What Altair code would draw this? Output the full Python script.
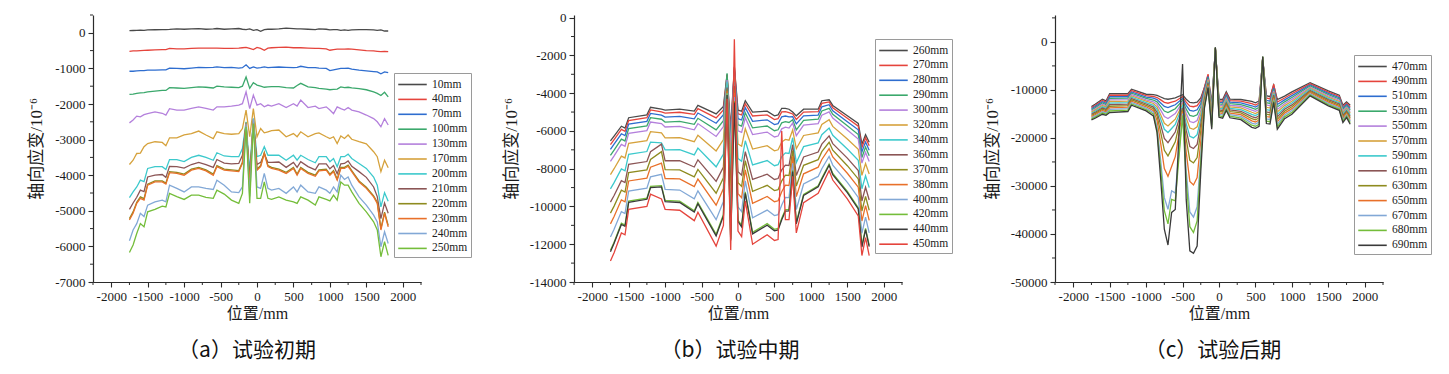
import altair as alt
import pandas as pd

SERIF = "Liberation Serif, Noto Sans CJK SC"
CJK = "Noto Sans CJK SC"

x_ticks = [-2000, -1500, -1000, -500, 0, 500, 1000, 1500, 2000]
x_minor = [-2250, -1750, -1250, -750, -250, 250, 750, 1250, 1750, 2250]

# ---------------- panel (a) ----------------
xa = [-1750, -1700, -1650, -1600, -1550, -1500, -1400, -1300, -1250, -1200, -1100, -1000, -900, -800, -700,
      -600, -550, -450, -350, -250, -200, -150, -100, -50, 0, 50, 100, 150, 200, 300, 400, 500, 550, 600,
      700, 800, 850, 950, 1000, 1050, 1100, 1150, 1200, 1250, 1300, 1400, 1500, 1600, 1650, 1700, 1750, 1800]
a_labels = ["10mm", "40mm", "70mm", "100mm", "130mm", "170mm", "200mm", "210mm", "220mm", "230mm", "240mm", "250mm"]
a10 = [60, 65, 70, 75, 70, 80, 85, 90, 90, 95, 110, 100, 110, 120, 100, 110, 120, 100, 110, 120, 100, 90, 110, 70, 90,
       40, 90, 100, 100, 110, 130, 120, 110, 110, 100, 90, 110, 100, 80, 90, 90, 70, 80, 70, 80, 90, 90, 80, 70, 80, 50, 50]
a40 = [-520, -510, -505, -500, -495, -490, -480, -470, -470, -440, -450, -450, -440, -430, -430, -430, -430, -440, -440,
       -430, -420, -410, -440, -470, -410, -440, -490, -430, -420, -410, -400, -420, -420, -420, -430, -440, -440, -450,
       -490, -470, -460, -460, -460, -450, -460, -480, -500, -510, -520, -530, -520, -530]
a70 = [-1080, -1080, -1070, -1060, -1060, -1050, -1050, -1040, -1040, -990, -1000, -1010, -990, -970, -980, -970, -960,
       -980, -970, -990, -980, -900, -1000, -960, -990, -980, -960, -980, -970, -960, -970, -980, -970, -940, -980, -980,
       -990, -1000, -1060, -1040, -1020, -1000, -1000, -990, -1020, -1050, -1070, -1090, -1100, -1150, -1100, -1120]
a100 = [-1730, -1720, -1700, -1690, -1680, -1660, -1640, -1620, -1620, -1540, -1550, -1560, -1540, -1520, -1530, -1550,
        -1500, -1520, -1530, -1540, -1500, -1240, -1560, -1400, -1470, -1500, -1530, -1520, -1510, -1510, -1540, -1550,
        -1480, -1420, -1520, -1540, -1560, -1580, -1600, -1590, -1580, -1520, -1540, -1530, -1550, -1570, -1600, -1660,
        -1700, -1760, -1670, -1800]
a130 = [-2530, -2450, -2340, -2360, -2300, -2270, -2220, -2260, -2310, -2130, -2170, -2170, -2120, -2080, -2120, -2170,
        -2080, -2080, -2060, -2030, -1990, -1660, -2130, -1750, -2030, -1990, -2080, -2030, -2060, -1990, -2100, -1990,
        -2060, -1890, -2100, -2060, -2130, -2080, -2170, -2270, -2080, -2130, -2170, -2100, -2170, -2220, -2310, -2410,
        -2500, -2640, -2410, -2590]
a170 = [-3700, -3580, -3390, -3380, -3200, -3110, -3060, -3080, -3170, -2950, -2950, -2870, -2830, -2760, -2870, -2970,
        -2780, -2830, -2850, -2830, -2690, -2170, -2920, -2130, -2920, -2690, -2810, -2780, -2750, -2730, -2920, -2830,
        -2920, -2780, -2920, -2830, -2810, -2920, -2970, -2920, -3110, -2900, -2970, -2870, -2990, -3060, -3120, -3340,
        -3480, -3900, -3580, -3790]
a200 = [-4630, -4470, -4330, -4140, -4180, -3810, -3760, -3760, -3840, -3560, -3560, -3620, -3500, -3440, -3500, -3580,
        -3370, -3460, -3480, -3480, -3250, -2500, -3900, -2410, -3480, -3440, -3200, -3440, -3440, -3440, -3580, -3440,
        -3580, -3440, -3560, -3650, -3480, -3480, -3620, -3530, -3760, -3480, -3480, -3410, -3530, -3670, -3810, -4050,
        -4280, -4890, -4490, -4730]
a210 = [-4960, -4780, -4620, -4420, -4460, -4050, -4000, -3980, -4060, -3750, -3760, -3800, -3700, -3640, -3700, -3780,
        -3560, -3660, -3680, -3670, -3440, -2600, -4100, -2500, -3700, -3640, -3400, -3640, -3640, -3630, -3780, -3640,
        -3780, -3620, -3760, -3850, -3680, -3680, -3820, -3730, -3960, -3680, -3670, -3600, -3750, -3900, -4060, -4330,
        -4600, -5220, -4780, -5070]
a220 = [-5220, -5030, -4760, -4610, -4660, -4250, -4160, -4160, -4220, -3900, -3920, -3970, -3830, -3780, -3850, -3970,
        -3730, -3830, -3850, -3870, -3640, -2520, -4250, -2420, -3830, -3730, -3360, -3730, -3780, -3830, -3920, -3780,
        -3970, -3780, -3920, -4000, -3850, -3830, -3970, -3870, -4110, -3780, -3780, -3720, -3870, -4160, -4340, -4580,
        -4760, -5500, -5040, -5410]
a230 = [-5260, -5070, -4790, -4650, -4700, -4280, -4190, -4190, -4250, -3930, -3950, -4000, -3860, -3810, -3880, -4000,
        -3760, -3860, -3880, -3900, -3670, -2550, -4300, -2450, -3860, -3760, -3390, -3760, -3810, -3860, -3950, -3810,
        -4000, -3810, -3950, -4030, -3880, -3860, -4000, -3900, -4140, -3810, -3810, -3750, -3900, -4190, -4370, -4610,
        -4790, -5540, -5070, -5450]
a240 = [-5840, -5540, -5360, -5070, -5160, -4840, -4750, -4700, -4750, -4280, -4370, -4470, -4330, -4330, -4370, -4400,
        -4140, -4280, -4470, -4490, -4330, -2550, -4600, -2410, -4330, -4370, -3950, -4370, -4420, -4370, -4510, -4330,
        -4470, -4280, -4470, -4510, -4330, -4420, -4510, -4330, -4470, -4000, -4120, -4050, -4280, -4610, -4840, -5120,
        -5310, -6010, -5590, -5920]
a250 = [-6170, -5960, -5640, -5360, -5450, -5030, -4960, -4870, -4890, -4510, -4600, -4680, -4560, -4560, -4620, -4650,
        -4420, -4530, -4700, -4790, -4510, -2640, -4790, -2550, -4650, -4650, -4190, -4650, -4680, -4610, -4700, -4750,
        -4790, -4610, -4700, -4840, -4610, -4680, -4720, -4560, -4700, -4190, -4280, -4280, -4470, -4790, -5030, -5310,
        -5540, -6290, -5870, -6250]
a_series = [a10, a40, a70, a100, a130, a170, a200, a210, a220, a230, a240, a250]

# ---------------- panel (b) ----------------
xb = [-1750, -1700, -1600, -1550, -1500, -1250, -1200, -1050, -1000, -800, -600, -550, -300, -200, -150, -100, -50,
      0, 50, 100, 200, 400, 500, 550, 600, 650, 700, 750, 800, 900, 1100, 1150, 1250, 1300, 1500, 1650, 1700, 1750, 1800]
b_labels = ["260mm", "270mm", "280mm", "290mm", "300mm", "320mm", "340mm", "360mm", "370mm", "380mm", "400mm",
            "420mm", "440mm", "450mm"]
b260 = [-6530, -6270, -5750, -5850, -5300, -5150, -4750, -4850, -4900, -4850, -4950, -4650, -5100, -4700, -3000,
        -5900, -2600, -4900, -4950, -4400, -5000, -4950, -5200, -5150, -4800, -4800, -4850, -5000, -5200, -4850,
        -4850, -4400, -4350, -4650, -5200, -5600, -6700, -6200, -6600]
b270 = [-6720, -6460, -5920, -6020, -5450, -5300, -4890, -4990, -5060, -5010, -5120, -4820, -5310, -4890, -3040,
        -6090, -2660, -5090, -5150, -4560, -5210, -5150, -5400, -5350, -4990, -4980, -5030, -5100, -5390, -5000,
        -4980, -4540, -4460, -4770, -5330, -5750, -6880, -6360, -6780]
b280 = [-6980, -6700, -6150, -6250, -5640, -5490, -5070, -5160, -5270, -5230, -5360, -5050, -5590, -5140, -3200,
        -6350, -2740, -5350, -5420, -4770, -5490, -5410, -5660, -5610, -5250, -5210, -5260, -5240, -5630, -5200,
        -5160, -4720, -4610, -4930, -5510, -5940, -7110, -6580, -7020]
b290 = [-7290, -7010, -6430, -6530, -5880, -5730, -5300, -5380, -5530, -5490, -5650, -5330, -5940, -5460, -2950,
        -6670, -2840, -5670, -5750, -5040, -5840, -5740, -5990, -5940, -5570, -5510, -5550, -5410, -5940, -5440,
        -5380, -4940, -4800, -5120, -5730, -6190, -7410, -6850, -7320]
b300 = [-7610, -7320, -6710, -6810, -6130, -5980, -5530, -5610, -5790, -5760, -5940, -5610, -6290, -5770, -3300,
        -6990, -2940, -5990, -6080, -5300, -6190, -6060, -6320, -6270, -5890, -5800, -5850, -5580, -6250, -5690,
        -5610, -5170, -4990, -5320, -5950, -6430, -7700, -7130, -7620]
b320 = [-8310, -8000, -7330, -7430, -6660, -6510, -6040, -6100, -6370, -6350, -6570, -6230, -7060, -6460, -3500,
        -7690, -3160, -6690, -6810, -5880, -6960, -6780, -7050, -7000, -6590, -6450, -6490, -5950, -6940, -6240,
        -6100, -5660, -5400, -5760, -6430, -6970, -8350, -7730, -8280]
b340 = [-9070, -8740, -8010, -8110, -7240, -7090, -6590, -6630, -7000, -6990, -7270, -6910, -7900, -7220, -3400,
        -8460, -3400, -7460, -7610, -6520, -7800, -7570, -7840, -7790, -7360, -7160, -7190, -6360, -7680, -6830,
        -6630, -6200, -5850, -6230, -6960, -7560, -9060, -8380, -9000]
b360 = [-9770, -9420, -8630, -8730, -7770, -7620, -7100, -6700, -7580, -7580, -7910, -7530, -8670, -7910, -3700,
        -9160, -3620, -8160, -8340, -7100, -8570, -8290, -8570, -8520, -8060, -7810, -7830, -6730, -8360, -7380,
        -7120, -6700, -6260, -6670, -7440, -8100, -9710, -8980, -9660]
b370 = [-10350, -9980, -9140, -9240, -8210, -8060, -7510, -7100, -8050, -8060, -8430, -8040, -9300, -8480, -3800,
        -9740, -3800, -8740, -8940, -7580, -9200, -8880, -9160, -9110, -8640, -8340, -8360, -7040, -8920, -7820,
        -7520, -7100, -6600, -7020, -7840, -8540, -10240, -9470, -10200]
b380 = [-10920, -10530, -9650, -9750, -8650, -8500, -7920, -7700, -8520, -8540, -8950, -8550, -9930, -9050, -3900,
        -10320, -3980, -9320, -9540, -8060, -9830, -9470, -9750, -9700, -9220, -8870, -8890, -7350, -9480, -8270,
        -7920, -7510, -6940, -7380, -8240, -8980, -10770, -9960, -10740]
b400 = [-11620, -11210, -10270, -10370, -9180, -9030, -8430, -8300, -9100, -9130, -9590, -9170, -10700, -9740, -4000,
        -11020, -4200, -10020, -10270, -8640, -10600, -10190, -10480, -10430, -9920, -9520, -9530, -7720, -10160,
        -8810, -8410, -8000, -7350, -7810, -8720, -9520, -11420, -10560, -11400]
b420 = [-12320, -11890, -10890, -10990, -9710, -9560, -8940, -8900, -9680, -9720, -10230, -9790, -11470, -10430,
        -4000, -11720, -4420, -10720, -11000, -9220, -11370, -10910, -11210, -11160, -10620, -10170, -10170, -8090,
        -10840, -9360, -8900, -8500, -7760, -8250, -9200, -10060, -12070, -11160, -12060]
b440 = [-12400, -11950, -10950, -11050, -9780, -9620, -9000, -8960, -9740, -9790, -10300, -9850, -11560, -10500,
        -4100, -11800, -4500, -10800, -11080, -9300, -11450, -10990, -11290, -11240, -10700, -10250, -10240, -8150,
        -10920, -9420, -8960, -8560, -7820, -8310, -9270, -10130, -12150, -11230, -12130]
b450 = [-12890, -12450, -11400, -11500, -10150, -10000, -9350, -9600, -10150, -10200, -10750, -10300, -12100, -11000,
        -4300, -12300, -1150, -11300, -11600, -9700, -12000, -11500, -11800, -11750, -6000, -10700, -10700, -8400,
        -11400, -9800, -9300, -8900, -8100, -8600, -9600, -10500, -12600, -11650, -12600]
b_series = [b260, b270, b280, b290, b300, b320, b340, b360, b370, b380, b400, b420, b440, b450]

# ---------------- panel (c) ----------------
xc = [-1750, -1700, -1600, -1550, -1500, -1250, -1200, -1000, -900, -850, -800, -750, -700, -650, -600, -500, -450,
      -400, -350, -300, -250, -200, -150, -100, -50, 0, 50, 100, 150, 300, 450, 500, 550, 600, 650, 700, 750, 800,
      900, 1000, 1250, 1500, 1650, 1700, 1750, 1800]
c_labels = ["470mm", "490mm", "510mm", "530mm", "550mm", "570mm", "590mm", "610mm", "630mm", "650mm", "670mm",
            "680mm", "690mm"]
c470 = [-13470, -13000, -11940, -12300, -10760, -10800, -9860, -10900, -11000, -11140, -11470, -11830, -11940, -11800,
        -11660, -11000, -11940, -12620, -12700, -12530, -11680, -9500, -7000, -13000, -1600, -12000, -12000, -10400,
        -11900, -12000, -12400, -12700, -12300, -3600, -11200, -11400, -9000, -12000, -11300, -10400, -8500, -10200,
        -11100, -13190, -12500, -13190]
c490 = [-13700, -13240, -12200, -12550, -11090, -11110, -10140, -11190, -11370, -11580, -12070, -12600, -12770, -12560,
        -12350, -11390, -12550, -13400, -13500, -13290, -12230, -9500, -6700, -13400, -1560, -12310, -12330, -10730,
        -12230, -12350, -12850, -13140, -12740, -3550, -11680, -11880, -8800, -12520, -11690, -10790, -8730, -10460,
        -11360, -13490, -12770, -13520]
c510 = [-13930, -13480, -12460, -12800, -11420, -11420, -10420, -11480, -11730, -12020, -12710, -13450, -13680, -13390,
        -13100, -11780, -13220, -14270, -14400, -14140, -12830, -10000, -7200, -13800, -1520, -12620, -12650, -11050,
        -12550, -12700, -13300, -13580, -13180, -3500, -12170, -12350, -9600, -13030, -12080, -11180, -8960, -10720,
        -11620, -13790, -13040, -13850]
c530 = [-14170, -13730, -12720, -13050, -11750, -11720, -10690, -11770, -12100, -12490, -13410, -14400, -14710, -14320,
        -13930, -12180, -14010, -15330, -15500, -15170, -13510, -10400, -7500, -14200, -1480, -12920, -12980, -11380,
        -12880, -13050, -13750, -14030, -13630, -3450, -12650, -12830, -9900, -13550, -12480, -11570, -9190, -10980,
        -11890, -14090, -13320, -14180]
c550 = [-14400, -13970, -12980, -13300, -12080, -12030, -10970, -12060, -12470, -13000, -14220, -15550, -15970, -15450,
        -14920, -12570, -14900, -16590, -16800, -16380, -14260, -10800, -7800, -14600, -1440, -13230, -13300, -11700,
        -13200, -13400, -14200, -14470, -14070, -3400, -13130, -13300, -10200, -14060, -12870, -11960, -9420, -11240,
        -12150, -14390, -13590, -14510]
c570 = [-14630, -14210, -13250, -13550, -12410, -12340, -11250, -12350, -12830, -13530, -15170, -16940, -17500, -16800,
        -16100, -12960, -15840, -17940, -18200, -17680, -15060, -11200, -8000, -15000, -1400, -13540, -13630, -12030,
        -13530, -13750, -14650, -14910, -14510, -3350, -13620, -13780, -10500, -14580, -13260, -12350, -9650, -11510,
        -12410, -14700, -13860, -14840]
c590 = [-14860, -14450, -13510, -13800, -12740, -12650, -11530, -12640, -13200, -14050, -16040, -18200, -18880, -18030,
        -17180, -13350, -17010, -19670, -20000, -19340, -16010, -11600, -8300, -15500, -1360, -13850, -13950, -12350,
        -13850, -14100, -15100, -15350, -14950, -3300, -14100, -14250, -10800, -15100, -13650, -12730, -9870, -11770,
        -12670, -15000, -14130, -15170]
c610 = [-15090, -14690, -13770, -14050, -13070, -12960, -11810, -12930, -13570, -14680, -17290, -20110, -21000, -19890,
        -18770, -13740, -18390, -21780, -22200, -21350, -17120, -12000, -8500, -16000, -1320, -14160, -14280, -12680,
        -14180, -14450, -15550, -15790, -15390, -3250, -14580, -14730, -11100, -15610, -14040, -13120, -10100, -12030,
        -12930, -15300, -14400, -15500]
c630 = [-15330, -14940, -14030, -14300, -13400, -13260, -12080, -13220, -13930, -15400, -18840, -22570, -23750, -22280,
        -20800, -14130, -20220, -24650, -25200, -24090, -18560, -12400, -8800, -16400, -1280, -14460, -14600, -13000,
        -14500, -14800, -16000, -16240, -15840, -3200, -15060, -15200, -11400, -16130, -14440, -13510, -10330, -12290,
        -13200, -15600, -14680, -15830]
c650 = [-15560, -15180, -14290, -14550, -13730, -13570, -12360, -13510, -14300, -16360, -21150, -26360, -28000, -25950,
        -23890, -14530, -22930, -29040, -29800, -28270, -20640, -12800, -9000, -16800, -1240, -14770, -14930, -13330,
        -14830, -15150, -16450, -16680, -16280, -3150, -15550, -15680, -11700, -16640, -14830, -13900, -10560, -12550,
        -13460, -15900, -14950, -16160]
c670 = [-15790, -15420, -14550, -14800, -14060, -13880, -12640, -13800, -14670, -17700, -24770, -32440, -34860, -31000,
        -31500, -14920, -26790, -35420, -36500, -34340, -23550, -13200, -9300, -17300, -1200, -15080, -15250, -13650,
        -15150, -15500, -16900, -17120, -16720, -3100, -16030, -16150, -12000, -17160, -15220, -14290, -10790, -12810,
        -13720, -16200, -15220, -16490]
c680 = [-16020, -15660, -14810, -15050, -14390, -14190, -12920, -14090, -15030, -18460, -26470, -35160, -37900, -32800,
        -33100, -15310, -28730, -38480, -39700, -37260, -25070, -13500, -9500, -17800, -1150, -15390, -15580, -13980,
        -15480, -15850, -17350, -17560, -17160, -3070, -16510, -16630, -12300, -17680, -15610, -14680, -11020, -13070,
        -13980, -16500, -15490, -16820]
c690 = [-16250, -15900, -15070, -15300, -14720, -14500, -13190, -14380, -15400, -18900, -28600, -39000, -42300, -35500,
        -34900, -4600, -32800, -43500, -44000, -42500, -27000, -13800, -9500, -18200, -1100, -15700, -15900, -14300,
        -15800, -16200, -17800, -18000, -17600, -3040, -17000, -17100, -12600, -18190, -16000, -15070, -11250, -13330,
        -14240, -16800, -15760, -17150]
c_series = [c470, c490, c510, c530, c550, c570, c590, c610, c630, c650, c670, c680, c690]

# ---------------- colours ----------------
GRAY, RED, BLUE, GREEN = "#4a4a4a", "#e5443c", "#2e6dcf", "#3ba86c"
PURPLE, GOLD, CYAN, BROWN = "#b480dc", "#d6a23c", "#3cc9cc", "#8b5555"
OLIVE, ORANGE, LBLUE, LGREEN, DGRAY = "#8e8b1f", "#e8702a", "#82a8d6", "#74bd3a", "#3a3a3a"
base_cycle = [GRAY, RED, BLUE, GREEN, PURPLE, GOLD, CYAN, BROWN, OLIVE, ORANGE, LBLUE, LGREEN]
a_colors = base_cycle
b_colors = base_cycle + [DGRAY, RED]
c_colors = base_cycle + [DGRAY]

PLOT_W, PLOT_H = 328, 267


def make_df(xs, labels, series):
    rows = []
    for lab, vals in zip(labels, series):
        if len(vals) != len(xs):
            raise ValueError(f"{lab}: {len(vals)} values for {len(xs)} positions")
        for x, y in zip(xs, vals):
            rows.append({"pos": x, "strain": y, "series": lab})
    return pd.DataFrame(rows)


def panel(df, labels, colors, ydom, yvals, ymin, lx, ly, caption, dx):
    xs = alt.Scale(domain=[-2250, 2250], nice=False, zero=False)
    ys = alt.Scale(domain=ydom, nice=False, zero=False)
    xaxis = alt.Axis(values=x_ticks, title="位置/mm", labelExpr="'' + datum.value", grid=False,
                     titlePadding=2, labelPadding=3, tickSize=5, titleFontSize=16)
    yaxis = alt.Axis(values=yvals, title="轴向应变/10⁻⁶", labelExpr="'' + datum.value", grid=False,
                     titlePadding=9, labelPadding=3, tickSize=5, titleFontSize=17)
    lines = alt.Chart(df).mark_line(strokeWidth=1.3).encode(
        x=alt.X("pos:Q", scale=xs, axis=xaxis),
        y=alt.Y("strain:Q", scale=ys, axis=yaxis),
        color=alt.Color("series:N", scale=alt.Scale(domain=labels, range=colors), sort=labels,
                        legend=alt.Legend(title=None, orient="none", legendX=lx, legendY=ly,
                                          symbolType="M-1.9,0L1.9,0", symbolSize=225, symbolStrokeWidth=1.6,
                                          symbolOffset=7, labelFont=SERIF, labelFontSize=11.5,
                                          labelColor="#222222", labelOffset=11, rowPadding=0.9, padding=3,
                                          strokeColor="#9a9a9a", fillColor="white")),
    )
    xm = alt.Chart(pd.DataFrame({"pos": x_minor})).mark_rule(color="#2b2b2b", strokeWidth=1).encode(
        x=alt.X("pos:Q", scale=xs, axis=xaxis), y=alt.value(PLOT_H), y2=alt.value(PLOT_H + 3))
    ym = alt.Chart(pd.DataFrame({"strain": ymin})).mark_rule(color="#2b2b2b", strokeWidth=1).encode(
        y=alt.Y("strain:Q", scale=ys, axis=yaxis), x=alt.value(0), x2=alt.value(-3))
    return alt.layer(lines, xm, ym).properties(
        width=PLOT_W, height=PLOT_H,
        title=alt.TitleParams(caption, orient="bottom", anchor="middle", offset=19, fontSize=21,
                              font=CJK, fontWeight="normal", color="#111111", dx=dx),
    )


pa = panel(make_df(xa, a_labels, a_series), a_labels, a_colors, [-7000, 500],
           list(range(-7000, 1, 1000)), list(range(-6500, 501, 1000)), 301, 58, "（a）试验初期", -10)
pb = panel(make_df(xb, b_labels, b_series), b_labels, b_colors, [-14000, 140],
           list(range(-14000, 1, 2000)), list(range(-13000, -999, 2000)), 301, 24, "（b）试验中期", -8)
pc = panel(make_df(xc, c_labels, c_series), c_labels, c_colors, [-50000, 5600],
           list(range(-50000, 1, 10000)), list(range(-45000, 5001, 10000)), 299, 40, "（c）试验后期", -6)

chart = alt.hconcat(pa, pb, pc, spacing=153, bounds="flush").resolve_scale(
    color="independent"
).properties(
    padding={"left": 19, "top": 3, "right": 5, "bottom": 5}
).configure_view(
    strokeWidth=0
).configure_axis(
    grid=False, domainColor="#2b2b2b", tickColor="#2b2b2b", labelColor="#1a1a1a", titleColor="#1a1a1a",
    labelFont=SERIF, labelFontSize=13, titleFont=SERIF, titleFontWeight="normal",
    domainWidth=1.2, tickWidth=1.1
)

chart.save("out.html", embed_options={"renderer": "svg", "actions": False})
